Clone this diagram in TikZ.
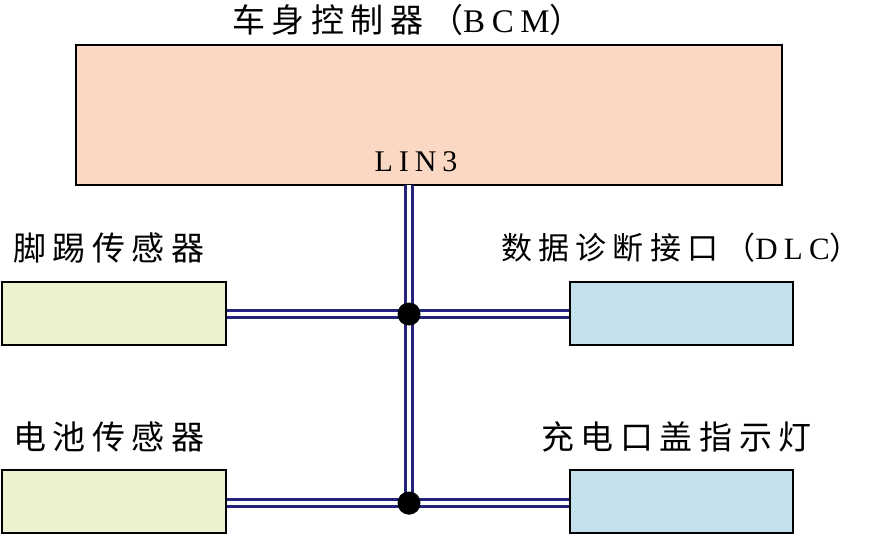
\documentclass[tikz,border=0pt]{standalone}
\usepackage{fontspec}
\newfontfamily\cjk[LetterSpace=20]{Noto Sans CJK SC}
\newfontfamily\cjkn{Noto Sans CJK SC}
\newfontfamily\lat[LetterSpace=20]{Liberation Serif}
\definecolor{bcmfill}{RGB}{250,216,196}
\definecolor{greenfill}{RGB}{236,242,208}
\definecolor{bluefill}{RGB}{196,224,236}
\definecolor{wire}{RGB}{36,36,128}
\tikzset{
  box/.style={draw=black, line width=1.5pt, inner sep=0pt},
  label/.style={inner sep=0pt, font=\fontsize{33}{36}\selectfont},
  bus/.style={draw=wire, line width=3.5pt, double=white, double distance=3.6pt},
  junc/.style={circle, fill=black, inner sep=0pt, minimum size=23pt}
}
\begin{document}
\begin{tikzpicture}[x=1pt,y=-1pt]
\useasboundingbox (0,0) rectangle (875,536);
\node[box, fill=bcmfill, minimum width=706pt, minimum height=140pt] (bcm) at (429,115) {};
\node[box, fill=greenfill, minimum width=224pt, minimum height=63pt] (kick) at (114,313.5) {};
\node[box, fill=greenfill, minimum width=224pt, minimum height=63pt] (batt) at (114,501.5) {};
\node[box, fill=bluefill, minimum width=223pt, minimum height=63pt] (dlc) at (681.5,313.5) {};
\node[box, fill=bluefill, minimum width=223pt, minimum height=63pt] (lamp) at (681.5,501.5) {};
\node[label, anchor=west] (title) at (232,20) {\cjk 车身控制器（\lat BCM\cjkn ）};
\node[inner sep=0pt, font=\fontsize{30}{32}\selectfont] (lin) at (416,162) {\lat LIN3};
\node[label, anchor=west] (tkick) at (13,248) {\cjk 脚踢传感器};
\node[label, anchor=west, font=\fontsize{31}{34}\selectfont] (tdlc) at (501,248) {\cjk 数据诊断接口（\lat DLC\cjkn ）};
\node[label, anchor=west] (tbatt) at (13,437) {\cjk 电池传感器};
\node[label, anchor=west] (tlamp) at (541,437) {\cjk 充电口盖指示灯};
\coordinate (top) at (409,185);
\node[junc] (j1) at (409,314) {};
\node[junc] (j2) at (409,503) {};
\draw[bus] (top) -- (j2.center);
\draw[bus] (kick.east |- j1) -- (dlc.west |- j1);
\draw[bus] (batt.east |- j2) -- (lamp.west |- j2);
\node[junc] at (j1) {};
\node[junc] at (j2) {};
\end{tikzpicture}
\end{document}
